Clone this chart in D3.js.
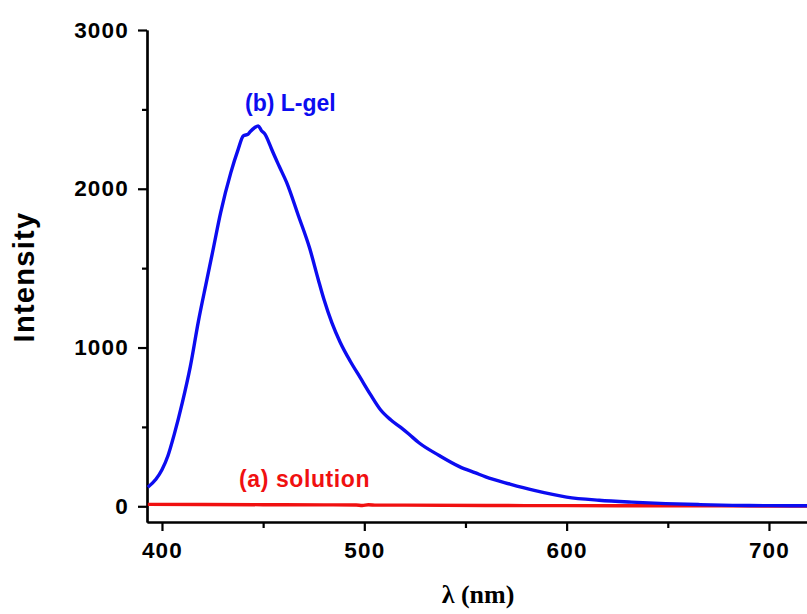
<!DOCTYPE html>
<html>
<head>
<meta charset="utf-8">
<script src="https://cdn.jsdelivr.net/npm/d3@7/dist/d3.min.js"></script>
<style>
  html, body { margin: 0; padding: 0; background: #fff; }
  svg { display: block; }
</style>
</head>
<body>
<svg id="chart" width="807" height="614"></svg>
<script>
// Emission spectra: wavelength (nm) vs. intensity
const gelWavelength = [393, 397, 400, 403, 406, 410, 414, 418, 422, 425, 429, 434, 437.7, 440.2, 442.6, 443.5, 445.9, 447.6, 449.2, 450.9, 452.5, 454, 458, 461.6, 467.3, 473, 477.2, 480, 484, 488, 493, 498, 503, 508, 513, 518, 522, 527, 537, 547, 555, 560, 572, 584, 600, 616, 632, 649, 665, 682, 700, 720];
const gelIntensity  = [120, 170, 230, 320, 450, 650, 880, 1165, 1415, 1600, 1850, 2100, 2250, 2333, 2344, 2358, 2386, 2396, 2365, 2344, 2302, 2255, 2140, 2040, 1835, 1625, 1430, 1305, 1155, 1035, 915, 810, 705, 608, 545, 497, 455, 400, 320, 250, 210, 185, 140, 100, 58, 38, 26, 17, 11, 6, 4, 3];

const solWavelength = [393, 420, 450, 480, 496, 499, 502, 506, 520, 560, 600, 650, 700, 720];
const solIntensity  = [12, 11, 10, 9, 8, 5, 10, 7, 7, 5, 4, 3, 2, 2];

const xMajorTicks = [400, 500, 600, 700];
const xMinorTicks = [450, 550, 650];
const yMajorTicks = [0, 1000, 2000, 3000];
const yMinorTicks = [500, 1500, 2500];

const gelLabel = "(b) L-gel";
const solLabel = "(a) solution";
const xTitle = "λ (nm)";
const yTitle = "Intensity";

const blue = "#0c0cf0";
const red = "#f01010";

const svg = d3.select("#chart");

const x = d3.scaleLinear().domain([392.6, 718.8]).range([147, 807]);
const y = d3.scaleLinear().domain([-99, 3000]).range([522, 30]);

// axes
function styleAxis(g) {
  g.selectAll("path.domain").attr("stroke", "#000").attr("stroke-width", 2.2);
  g.selectAll(".tick line").attr("stroke", "#000").attr("stroke-width", 2.2);
  g.selectAll(".tick text")
    .attr("fill", "#000")
    .style("font-family", "'Liberation Sans', Arial, sans-serif")
    .style("font-weight", "bold")
    .style("font-size", "22.5px")
    .style("letter-spacing", "1.2px");
}

const xAxisG = svg.append("g").attr("transform", "translate(0,522)");
xAxisG.append("g")
  .call(d3.axisBottom(x).tickValues(xMinorTicks).tickSize(6).tickSizeOuter(0).tickFormat(""))
  .call(styleAxis);
xAxisG.append("g")
  .call(d3.axisBottom(x).tickValues(xMajorTicks).tickSize(9).tickSizeOuter(0).tickPadding(11).tickFormat(d3.format("d")))
  .call(styleAxis);

const yAxisG = svg.append("g").attr("transform", "translate(147,0)");
yAxisG.append("g")
  .call(d3.axisLeft(y).tickValues(yMinorTicks).tickSize(5).tickSizeOuter(0).tickFormat(""))
  .call(styleAxis);
yAxisG.append("g")
  .call(d3.axisLeft(y).tickValues(yMajorTicks).tickSize(9).tickSizeOuter(0).tickPadding(9).tickFormat(d3.format("d")))
  .call(styleAxis);

// spectra
const line = d3.line()
  .x(d => x(d[0]))
  .y(d => y(d[1]))
  .curve(d3.curveMonotoneX);

svg.append("path")
  .datum(d3.zip(solWavelength, solIntensity))
  .attr("d", line)
  .attr("fill", "none")
  .attr("stroke", red)
  .attr("stroke-width", 3.4)
  .attr("stroke-linejoin", "round");

svg.append("path")
  .datum(d3.zip(gelWavelength, gelIntensity))
  .attr("d", line)
  .attr("fill", "none")
  .attr("stroke", blue)
  .attr("stroke-width", 3.4)
  .attr("stroke-linejoin", "round");

// curve labels
svg.append("text")
  .attr("x", 245).attr("y", 111)
  .attr("fill", blue)
  .style("font-family", "'Liberation Sans', Arial, sans-serif")
  .style("font-weight", "bold")
  .style("font-size", "23px")
  .text(gelLabel);

svg.append("text")
  .attr("x", 239).attr("y", 487)
  .attr("fill", red)
  .style("font-family", "'Liberation Sans', Arial, sans-serif")
  .style("font-weight", "bold")
  .style("font-size", "23px")
  .style("letter-spacing", "0.6px")
  .text(solLabel);

// axis titles
svg.append("text")
  .attr("x", 478).attr("y", 603)
  .attr("text-anchor", "middle")
  .attr("fill", "#000")
  .style("font-family", "'Liberation Serif', 'Times New Roman', serif")
  .style("font-weight", "bold")
  .style("font-size", "26px")
  .text(xTitle);

svg.append("text")
  .attr("transform", "translate(33.5,277) rotate(-90)")
  .attr("text-anchor", "middle")
  .attr("fill", "#000")
  .style("font-family", "'Liberation Sans', Arial, sans-serif")
  .style("font-weight", "bold")
  .style("font-size", "29px")
  .style("letter-spacing", "1.3px")
  .text(yTitle);
</script>
</body>
</html>
